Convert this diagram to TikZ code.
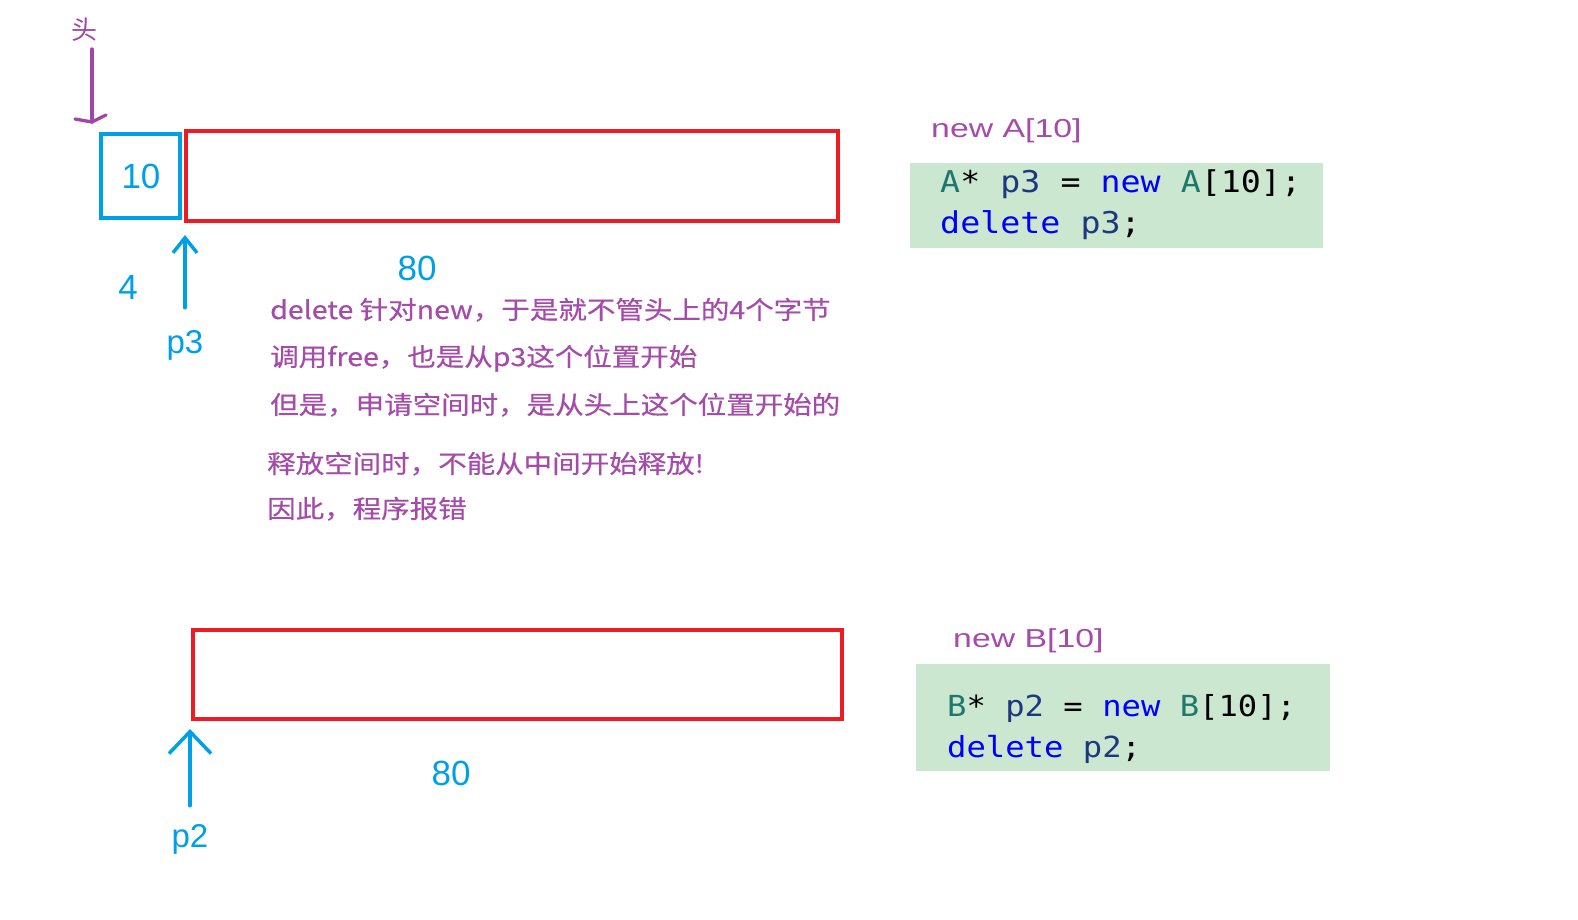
\documentclass[tikz,border=0pt]{standalone}
\usepackage{fontspec}
\setmainfont{Liberation Sans}
\newfontfamily\labfont{Liberation Sans}
\newfontfamily\widefont[FakeStretch=1.3]{Liberation Sans}
\newfontfamily\cjkfont[FakeStretch=1.14,FakeBold=0.4]{Noto Sans CJK SC}
\newfontfamily\headfont{Noto Sans CJK SC}
\newfontfamily\codefont[FakeStretch=1.11]{DejaVu Sans Mono}
\usetikzlibrary{arrows.meta}
\definecolor{cblue}{RGB}{0,160,233}
\definecolor{cred}{RGB}{237,28,36}
\definecolor{cpurple}{RGB}{165,75,170}
\definecolor{carrowp}{RGB}{160,70,170}
\definecolor{cgreen}{RGB}{204,231,208}
\definecolor{ctype}{RGB}{30,120,110}
\definecolor{cident}{RGB}{31,55,127}
\definecolor{ckw}{RGB}{0,0,255}
\tikzset{
  membox/.style={draw=cred, line width=4pt, inner sep=0pt},
  hdrbox/.style={draw=cblue, line width=4pt, inner sep=0pt},
  codebg/.style={fill=cgreen, draw=none, inner sep=0pt},
  bluelab/.style={text=cblue, inner sep=0pt, font=\labfont\fontsize{35}{40}\selectfont},
  ptrlab/.style={text=cblue, inner sep=0pt, font=\labfont\fontsize{33}{38}\selectfont},
  note/.style={text=cpurple, inner sep=0pt, anchor=base west, font=\cjkfont\fontsize{25}{29}\selectfont},
  newlab/.style={text=cpurple, inner sep=0pt, anchor=base west, font=\widefont\fontsize{26}{30}\selectfont},
  codeline/.style={inner sep=0pt, anchor=base west, text=black},
  ptrarrow/.style={draw=cblue, line width=3.5pt, line cap=round},
  headarrow/.style={draw=carrowp, line width=3.3pt, line cap=round, line join=round},
}
\newcommand{\ty}[1]{\textcolor{ctype}{#1}}
\newcommand{\idn}[1]{\textcolor{cident}{#1}}
\newcommand{\kw}[1]{\textcolor{ckw}{#1}}
\begin{document}
\begin{tikzpicture}[x=1pt,y=-1pt]
\useasboundingbox (0,0) rectangle (1578,919);
\fill[white] (0,0) rectangle (1578,919);

% header and first block
\node[text=carrowp, inner sep=0pt, font=\headfont\fontsize{26}{30}\selectfont] (head) at (84,30) {头};
\node[hdrbox, minimum width=79.3pt, minimum height=84pt] (hdr) at (140.4,176) {};
\node[bluelab, anchor=base] (ten) at (141,188) {10};
\node[membox, minimum width=652pt, minimum height=90pt] (memA) at (512,176) {};
\coordinate (headtip) at (92,122);
\draw[headarrow, shorten <=7pt] (head.south -| headtip) -- (headtip);
\draw[headarrow] (headtip) ++(-17,-3) -- (headtip) -- ++(14,-7);

\node[bluelab, anchor=base] (four) at (128,299) {4};
\node[ptrlab, anchor=base] (p3) at (185,353) {p3};
\node[bluelab, anchor=base] (eightyA) at (417,280) {80};
\draw[ptrarrow, -{Straight Barb[length=15pt,width=24pt]}, shorten <=22pt, shorten >=12pt] (p3.north) -- (p3.north |- memA.south west);

% note text
\node[note] (n1) at (270,319) {delete 针对new，于是就不管头上的4个字节};
\node[note] (n2) at (270,366) {调用free，也是从p3这个位置开始};
\node[note] (n3) at (270,414) {但是，申请空间时，是从头上这个位置开始的};
\node[note] (n4) at (267,473) {释放空间时，不能从中间开始释放!};
\node[note] (n5) at (267,518) {因此，程序报错};

% code A
\node[newlab] (newA) at (931,137) {new A[10]};
\node[codebg, minimum width=413pt, minimum height=85pt] (codeA) at (1116.5,205.5) {};
\node[codeline, font=\codefont\fontsize{30}{36}\selectfont] (cA1) at (940,192) {\ty{A}* \idn{p3} = \kw{new} \ty{A}[10];};
\node[codeline, font=\codefont\fontsize{30}{36}\selectfont] (cA2) at (940,233) {\kw{delete} \idn{p3};};

% second block
\node[membox, minimum width=649pt, minimum height=89pt] (memB) at (517.5,674.5) {};
\node[ptrlab, anchor=base] (p2) at (190,847) {p2};
\node[bluelab, anchor=base] (eightyB) at (451,785) {80};
\draw[ptrarrow, -{Straight Barb[length=22pt,width=42pt]}, shorten <=18pt, shorten >=8pt] (p2.north) -- (p2.north |- memB.south west);

% code B
\node[newlab] (newB) at (953,647) {new B[10]};
\node[codebg, minimum width=414pt, minimum height=107pt] (codeB) at (1123,717.5) {};
\node[codeline, font=\codefont\fontsize{29}{34}\selectfont] (cB1) at (947,716) {\ty{B}* \idn{p2} = \kw{new} \ty{B}[10];};
\node[codeline, font=\codefont\fontsize{29}{34}\selectfont] (cB2) at (947,757) {\kw{delete} \idn{p2};};
\end{tikzpicture}
\end{document}
